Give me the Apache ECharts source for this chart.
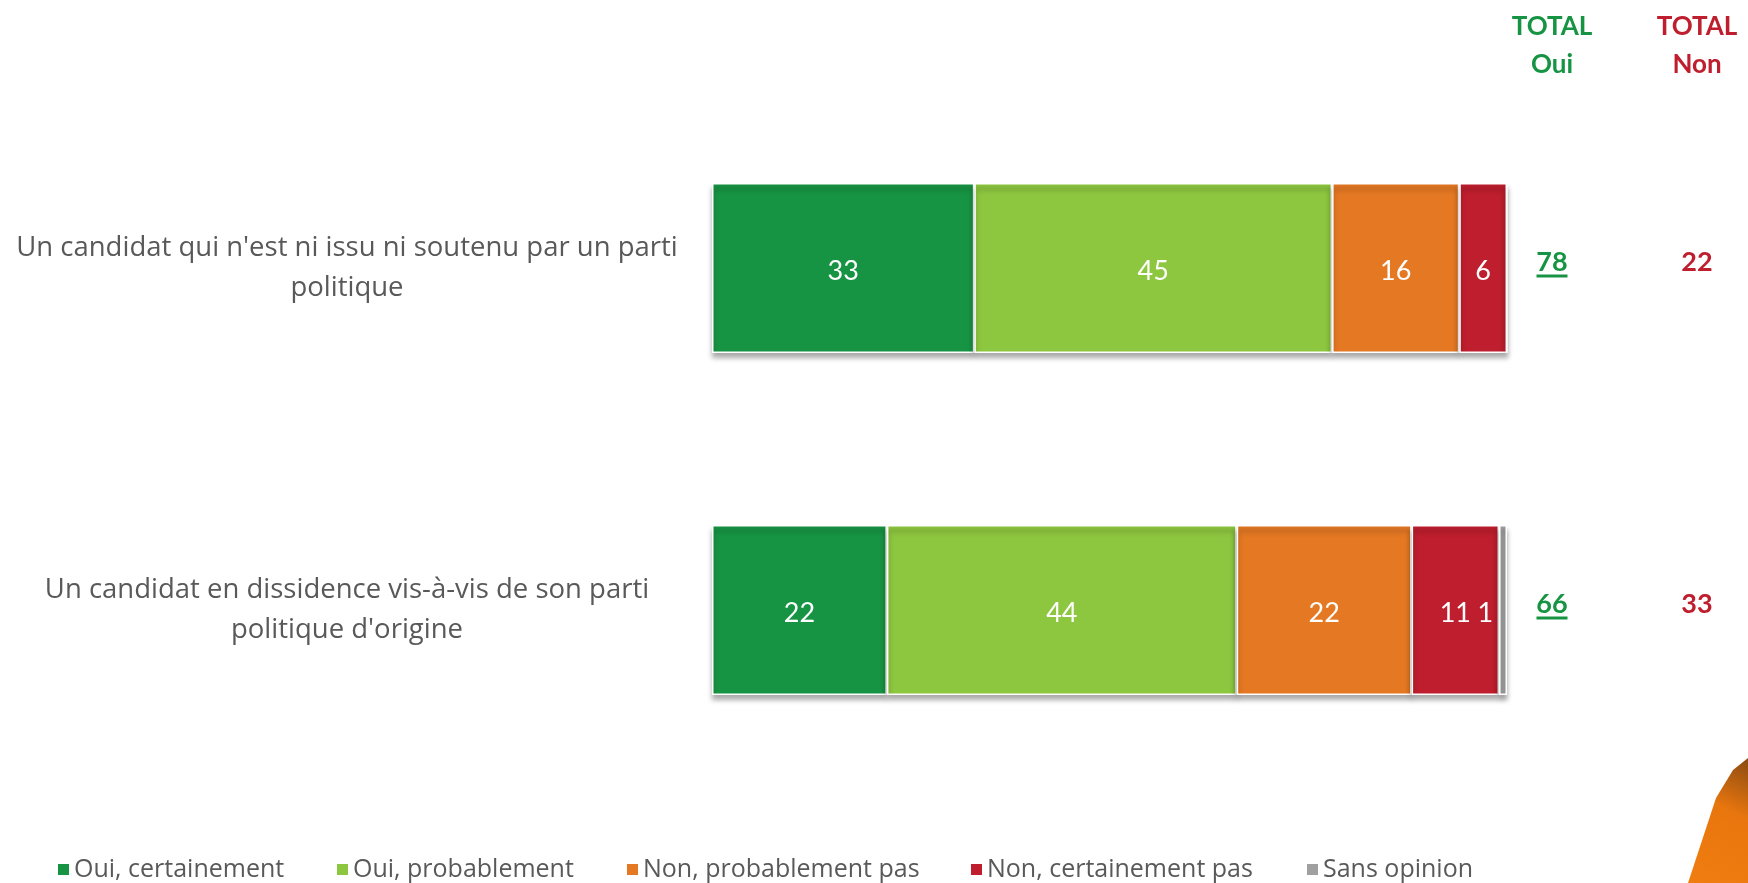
<!DOCTYPE html>
<html>
<head>
<meta charset="utf-8">
<script src="https://cdn.jsdelivr.net/npm/echarts@6/dist/echarts.min.js"></script>
<style>
    html, body { margin: 0; padding: 0; background: #fff; }
    #chart { width: 1748px; height: 883px; }
</style>
</head>
<body>
<div id="chart"></div>
<script>
    // données
    var categories = [
      "Un candidat qui n'est ni issu ni soutenu par un parti\npolitique",
      "Un candidat en dissidence vis-à-vis de son parti\npolitique d'origine"
    ];
    var ouiCertainement = [33, 22];
    var ouiProbablement = [45, 44];
    var nonProbablement = [16, 22];
    var nonCertainement = [6, 11];
    var sansOpinion = [0, 1];
    var totalHeaders = ['TOTAL\nOui', 'TOTAL\nNon'];
    var totalOui = [78, 66];
    var totalNon = [22, 33];

    var seriesNames = ['Oui, certainement', 'Oui, probablement', 'Non, probablement pas', 'Non, certainement pas', 'Sans opinion'];
    var seriesData = [ouiCertainement, ouiProbablement, nonProbablement, nonCertainement, sansOpinion];
    var colors = ['#179443', '#8dc63f', '#e47823', '#be1e2d', '#a0a0a0'];
    var legendLeft = [56, 335, 625, 969, 1305];

    var font = 'Lato, "Open Sans", sans-serif';
    var labelFont = '"Open Sans", Lato, sans-serif';
    var green = '#179443', red = '#be1e2d', grey = '#595959';

    var myChart = echarts.init(document.getElementById('chart'));

    var barSeries = seriesNames.map(function (name, i) {
      return {
        name: name,
        type: 'bar',
        stack: 'total',
        barWidth: 170,
        xAxisIndex: 0,
        yAxisIndex: 0,
        data: seriesData[i],
        itemStyle: {
          color: colors[i],
          borderColor: '#fff',
          borderWidth: 1.5,
          shadowColor: 'rgba(0,0,0,0.35)',
          shadowBlur: 5,
          shadowOffsetY: 5
        },
        label: {
          show: true,
          position: i === 4 ? 'left' : 'inside',
          distance: 6,
          offset: [0, 3],
          color: '#fff',
          fontFamily: font,
          fontSize: 27,
          formatter: function (p) { return p.value > 0 ? p.value : ''; }
        }
      };
    });

    var totalSeries = [
      {
        type: 'scatter',
        xAxisIndex: 1,
        yAxisIndex: 1,
        symbol: 'rect',
        symbolSize: [31, 3],
        symbolOffset: [0, 8],
        itemStyle: { color: green, opacity: 1 },
        data: totalOui.map(function (v, i) { return [totalHeaders[0], categories[i], v]; }),
        label: {
          show: true, position: 'inside', offset: [0, -14],
          color: green, fontFamily: font, fontWeight: 'bold', fontSize: 27,
          formatter: function (p) { return p.value[2]; }
        }
      },
      {
        type: 'scatter',
        xAxisIndex: 1,
        yAxisIndex: 1,
        symbolSize: 0,
        itemStyle: { color: red, opacity: 1 },
        data: totalNon.map(function (v, i) { return [totalHeaders[1], categories[i], v]; }),
        label: {
          show: true, position: 'inside', offset: [0, -6],
          color: red, fontFamily: font, fontWeight: 'bold', fontSize: 27,
          formatter: function (p) { return p.value[2]; }
        }
      }
    ];

    var option = {
      backgroundColor: '#fff',
      animation: false,
      legend: seriesNames.map(function (name, i) {
        return {
          data: [name],
          left: legendLeft[i],
          top: 857,
          padding: 0,
          icon: 'rect',
          itemWidth: 13,
          itemHeight: 13,
          itemGap: 6,
          selectedMode: false,
          textStyle: { color: grey, fontFamily: labelFont, fontSize: 25, padding: [0, 0, 0, -1] }
        };
      }),
      grid: [
        { left: 712, right: 241, top: 97, bottom: 102 },
        { left: 1552, right: 51, top: 97, bottom: 102 }
      ],
      xAxis: [
        { type: 'value', gridIndex: 0, min: 0, max: 100, show: false },
        {
          type: 'category', gridIndex: 1, position: 'top', boundaryGap: false,
          data: totalHeaders,
          axisLine: { show: false }, axisTick: { show: false }, splitLine: { show: false },
          axisLabel: {
            margin: 13,
            fontFamily: font, fontWeight: 'bold', fontSize: 26, lineHeight: 38,
            color: function (v, i) { return i === 0 ? green : red; }
          }
        }
      ],
      yAxis: [
        {
          type: 'category', gridIndex: 0, inverse: true, data: categories,
          axisLine: { show: false }, axisTick: { show: false },
          axisLabel: {
            margin: 365, align: 'center',
            color: grey, fontFamily: labelFont, fontSize: 27.5, lineHeight: 40,
            padding: [4, 0, 0, 0]
          }
        },
        { type: 'category', gridIndex: 1, inverse: true, data: categories, show: false }
      ],
      graphic: [
        {
          type: 'polygon',
          silent: true,
          shape: { points: [[1688, 883], [1716, 798], [1733, 770], [1748, 758], [1748, 883]] },
          style: {
            fill: new echarts.graphic.LinearGradient(0, 1, 1, 0, [
              { offset: 0, color: '#f07d10' },
              { offset: 0.6, color: '#e8760e' },
              { offset: 1, color: '#8a4a12' }
            ])
          }
        }
      ],
      series: barSeries.concat(totalSeries)
    };

    myChart.setOption(option);
</script>
</body>
</html>
